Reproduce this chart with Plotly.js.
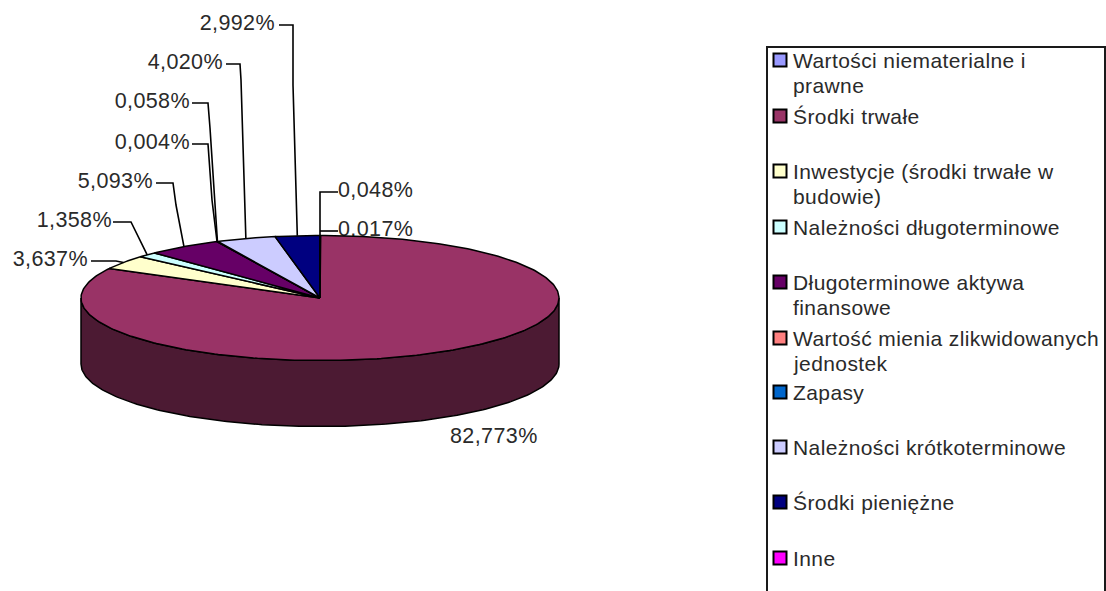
<!DOCTYPE html>
<html><head><meta charset="utf-8">
<script src="https://cdn.plot.ly/plotly-3.0.1.min.js"></script>
<style>html,body{margin:0;padding:0;background:#fff;overflow:hidden}
#c text{letter-spacing:.4px}</style></head>
<body><div id="c" style="width:1106px;height:591px"></div>
<script>
// Data
const categories = ["Wartości niematerialne i<br>prawne","Środki trwałe","Inwestycje (środki trwałe w<br>budowie)","Należności długoterminowe","Długoterminowe aktywa<br>finansowe","Wartość mienia zlikwidowanych<br>jednostek","Zapasy","Należności krótkoterminowe","Środki pieniężne","Inne"];
const values = [0.048,82.773,3.637,1.358,5.093,0.004,0.058,4.020,2.992,0.017];
const colors = ["#9999ff","#993366","#ffffcc","#ccffff","#660066","#ff8080","#0066cc","#ccccff","#000080","#ff00ff"];
const wallColors = ["#4d4d80","#4c1a33","#808066","#668080","#330033","#804040","#003366","#666680","#000040","#800080"];

// Layout of the drawing (pixels on hidden axes)
const cx=320, cy=298, rx=239, ry=62.5, depth=66;
const labelAnchor = [[338,192,"l"],[450,438,"l0"],[88,261,"r"],[112,222,"r"],[153,183,"r"],[190,144,"r"],[190,103,"r"],[223,64,"r"],[275,25,"r"],[338,231,"l"]];
const leaderElbows = [
 [[320,192],[338,192]], null,
 [[91,261],[116,261]],
 [[113,222],[131,222]],
 [[156,183],[173,183],[176,205]],
 [[192,144],[208,144],[212,200]],
 [[192,103],[208,103],[210,128]],
 [[226,64],[240,64],[241,80]],
 [[279,25],[293,25],[293,85]],
 [[338,231],[320,231]]
];
const legendY = [60,116,171,227,282,338,392,447,502,558];
const legendLineStep = 25;
const legendBox = {x0:767,y0:47,x1:1105,y1:640};

const total = values.reduce((a,b)=>a+b,0);
const fmt = v => v.toFixed(3).replace(".",",")+"%";
const pt = (deg,dy=0)=>{const t=deg*Math.PI/180;return [cx+rx*Math.sin(t), cy-ry*Math.cos(t)+dy];};
function arc(a,b,dy=0){const n=Math.max(2,Math.ceil(Math.abs(b-a)));const o=[];for(let i=0;i<=n;i++)o.push(pt(a+(b-a)*i/n,dy));return o;}

let acc=0; const spans=values.map(v=>{const a=acc;acc+=v/total*360;return [a,acc];});
const traces=[];
const line={color:"#000",width:1.5};
const xy=p=>({x:p.map(q=>q[0]),y:p.map(q=>q[1])});
const labelFont={family:"Liberation Sans",size:21.5,color:"#2a2a2a"};

// value labels, under the pie
const rightIdx=values.map((v,i)=>i).filter(i=>labelAnchor[i][2]=="r");
const leftIdx=values.map((v,i)=>i).filter(i=>labelAnchor[i][2]!="r");
traces.push({type:"scatter",mode:"text",x:rightIdx.map(i=>labelAnchor[i][0]),y:rightIdx.map(i=>labelAnchor[i][1]),
  text:rightIdx.map(i=>fmt(values[i])),textposition:"middle left",textfont:labelFont,hoverinfo:"skip",showlegend:false});
traces.push({type:"scatter",mode:"text",x:leftIdx.map(i=>labelAnchor[i][0]),y:leftIdx.map(i=>labelAnchor[i][1]),
  text:leftIdx.map(i=>fmt(values[i])),textposition:"middle right",textfont:labelFont,hoverinfo:"skip",showlegend:false});

// walls
spans.forEach((s,i)=>{const a=Math.max(s[0],90),b=Math.min(s[1],270);if(b<=a)return;
  const p=arc(a,b).concat(arc(b,a,depth));p.push(p[0]);
  traces.push({type:"scatter",mode:"lines",...xy(p),fill:"toself",fillcolor:wallColors[i],line,hoverinfo:"skip",showlegend:false});});
// tops
spans.forEach((s,i)=>{const p=[[cx,cy]].concat(arc(s[0],s[1]));p.push([cx,cy]);
  traces.push({type:"scatter",mode:"lines",...xy(p),fill:"toself",fillcolor:colors[i],line,name:categories[i].replace("<br>"," "),text:fmt(values[i]),hoverinfo:"name+text",showlegend:false});});
// leaders
leaderElbows.forEach((e,i)=>{if(!e)return;
  const m=(spans[i][0]+spans[i][1])/2;
  const p=i==0?[[cx,cy-ry]].concat(e):(i==9?e:e.concat([pt(m)]));
  traces.push({type:"scatter",mode:"lines",...xy(p),line:{color:"#000",width:1.6},hoverinfo:"skip",showlegend:false});});
// legend swatches
traces.push({type:"scatter",mode:"markers",x:categories.map(()=>780),y:legendY,marker:{symbol:"square",size:13,color:colors,line:{color:"#000",width:2}},hoverinfo:"skip",showlegend:false});

const annotations=[];
categories.forEach((c,i)=>c.split("<br>").forEach((t,k)=>annotations.push({x:792,y:legendY[i]+k*legendLineStep,xref:"x",yref:"y",xanchor:"left",yanchor:"middle",align:"left",showarrow:false,text:t,borderpad:0,font:{family:"Liberation Sans",size:21,color:"#2a2a2a"}})));

const layout={width:1106,height:591,margin:{l:0,r:0,t:0,b:0},paper_bgcolor:"#fff",plot_bgcolor:"#fff",showlegend:false,
 xaxis:{range:[0,1106],visible:false,fixedrange:true},
 yaxis:{range:[591,0],visible:false,fixedrange:true},
 shapes:[{type:"rect",xref:"x",yref:"y",x0:legendBox.x0,y0:legendBox.y0,x1:legendBox.x1,y1:legendBox.y1,line:{color:"#1a1a1a",width:2}}],
 annotations};
Plotly.newPlot("c",traces,layout,{staticPlot:true,displayModeBar:false});
</script></body></html>
